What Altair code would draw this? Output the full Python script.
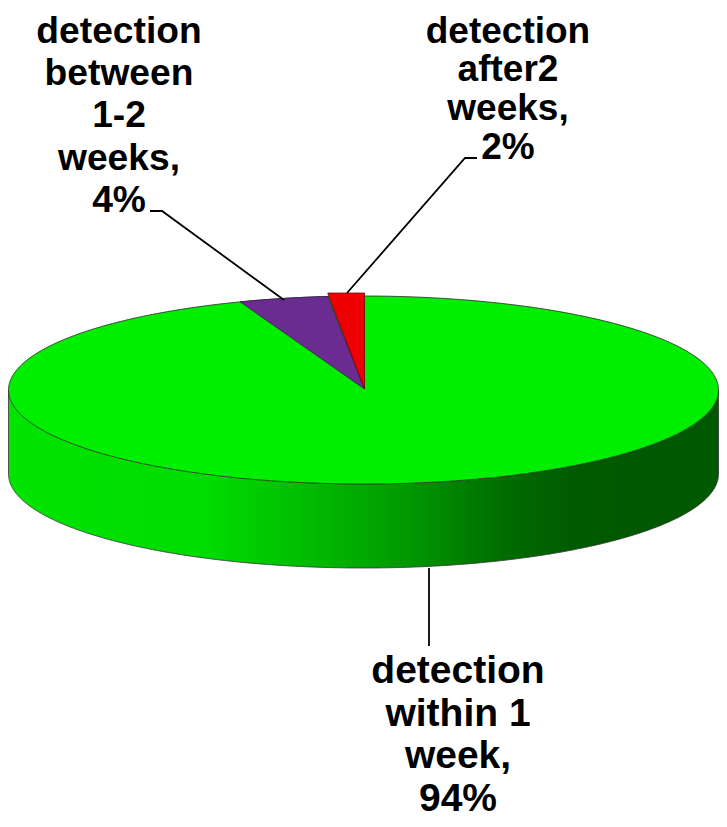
import numpy as np
import pandas as pd
import altair as alt

# --- chart values (labels are rounded to 94 / 4 / 2)
SLICE_NAMES = ["detection within 1 week", "detection between 1-2 weeks", "detection after2 weeks"]
SLICE_VALUES = [94.35, 4.05, 1.6]
SLICE_COLORS = ["#00EE00", "#6B2C91", "#EE0000"]
LABEL_LINES = [
    ["detection", "within 1", "week,", "94%"],
    ["detection", "between", "1-2", "weeks,", "4%"],
    ["detection", "after2", "weeks,", "2%"],
]

# --- layout (chart coordinates, in pixels of the drawing)
W, H = 711, 811
CX, CY, RX, RY, DEPTH = 355.5, 382.0, 355.0, 94.0, 84.0
APEX = (356.5, 381.0)
RED_LIFT = 3.0
LABEL_X = [450, 111, 500]
LABEL_Y0 = [675, 34.5, 34.5]
LINE_STEP = [42.5, 42.4, 38.8]
FONT_SIZE = [39, 37.2, 37]
LEADERS = [
    [(421, 560), (421, 638)],
    [(142, 203), (154, 203), (276, 292)],
    [(469, 150), (457, 150), (339, 285)],
]
SIDE_STOPS = [
    (0.00, "#00E400"), (0.28, "#00DC00"), (0.40, "#00C000"), (0.52, "#00A400"),
    (0.60, "#008C00"), (0.70, "#006C00"), (0.80, "#005A00"), (1.00, "#005800"),
]

x_scale = alt.Scale(domain=[0, W], range=[0, W], nice=False, zero=False)
y_scale = alt.Scale(domain=[0, H], range=[0, H], nice=False, zero=False)
X = lambda: alt.X("px:Q", scale=x_scale, axis=None)
Y = lambda f="py": alt.Y(f"{f}:Q", scale=y_scale, axis=None)


def area(df, fill):
    return alt.Chart(df).mark_area(fill=fill, strokeWidth=0, interpolate="linear").encode(
        x=X(), y=Y(), y2=alt.Y2("py2:Q")
    )


def outline(xs, ys, color, width=0.8):
    df = pd.DataFrame({"px": xs, "py": ys, "i": np.arange(len(xs))})
    return alt.Chart(df).mark_line(color=color, strokeWidth=width).encode(
        x=X(), y=Y(), order="i:Q"
    )


# whole ellipse sampled along x
t = np.linspace(np.pi, 0, 361)
ex = CX + RX * np.cos(t)
top_edge = CY - RY * np.sin(t)
low_edge = CY + RY * np.sin(t)

side = area(
    pd.DataFrame({"px": ex, "py": low_edge, "py2": low_edge + DEPTH}),
    alt.Gradient(
        gradient="linear",
        stops=[alt.GradientStop(offset=o, color=c) for o, c in SIDE_STOPS],
        x1=0, x2=1, y1=0, y2=0,
    ),
)
top = area(pd.DataFrame({"px": ex, "py": top_edge, "py2": low_edge}), SLICE_COLORS[0])
side_line = outline(
    np.r_[ex[0], ex, ex[-1]], np.r_[CY, low_edge + DEPTH, CY], "#333333"
)
top_line = outline(
    np.r_[ex, ex[::-1]], np.r_[top_edge, low_edge[::-1]], "#222222"
)


def sector(a0, a1, lift):
    """Wedge running anticlockwise from angle a0 to a1 (radians from 12 o'clock)."""
    ry = RY + lift
    p0 = (CX - RX * np.sin(a0), CY - ry * np.cos(a0))
    p1 = (CX - RX * np.sin(a1), CY - ry * np.cos(a1))
    if a0 == 0:
        p0 = (APEX[0], CY - ry)
    xs = np.unique(np.r_[np.linspace(p1[0], p0[0], 50), APEX[0]])
    arc = CY - ry * np.sqrt(np.clip(1 - ((xs - CX) / RX) ** 2, 0, 1))
    lower = np.interp(xs, [p1[0], APEX[0]], [p1[1], APEX[1]])
    upper = np.where(
        xs <= p0[0], arc,
        np.interp(xs, [p0[0], APEX[0]], [p0[1], APEX[1]]),
    )
    if lift:
        upper = np.where(xs <= APEX[0], np.minimum(upper, p0[1]), upper)
    return pd.DataFrame({"px": xs, "py": upper, "py2": lower})


def sector_line(df, color):
    return outline(
        np.r_[df["px"], df["px"].values[::-1], df["px"].values[0]],
        np.r_[df["py"], df["py2"].values[::-1], df["py"].values[0]],
        color,
    )


fractions = np.array(SLICE_VALUES) / sum(SLICE_VALUES)
a_red = 2 * np.pi * fractions[2]
a_purple = a_red + 2 * np.pi * fractions[1]

purple_df = sector(a_red, a_purple, 0.0)
red_df = sector(0.0, a_red, RED_LIFT)

leader_rows = [
    {"g": g, "i": i, "px": p[0], "py": p[1]}
    for g, pts in enumerate(LEADERS) for i, p in enumerate(pts)
]
leaders = alt.Chart(pd.DataFrame(leader_rows)).mark_line(color="black", strokeWidth=1.8).encode(
    x=X(), y=Y(), detail="g:N", order="i:Q"
)

layers = [
    side, side_line, top, top_line,
    area(purple_df, SLICE_COLORS[1]), sector_line(purple_df, "#3A1A50"),
    area(red_df, SLICE_COLORS[2]), sector_line(red_df, "#7A0000"),
    leaders,
]
for k, lines in enumerate(LABEL_LINES):
    rows = [
        {"px": LABEL_X[k], "py": LABEL_Y0[k] + i * LINE_STEP[k], "t": s}
        for i, s in enumerate(lines)
    ]
    layers.append(
        alt.Chart(pd.DataFrame(rows)).mark_text(
            font="Liberation Sans", fontWeight="bold", fontSize=FONT_SIZE[k],
            align="center", baseline="alphabetic", color="black",
        ).encode(x=X(), y=Y(), text="t:N")
    )

chart = alt.layer(*layers).properties(
    width=W, height=H, padding=0, background="white",
    autosize=alt.AutoSizeParams(type="none"),
).configure_view(stroke=None)

chart.save("out.html", embed_options={"renderer": "svg", "actions": False})
